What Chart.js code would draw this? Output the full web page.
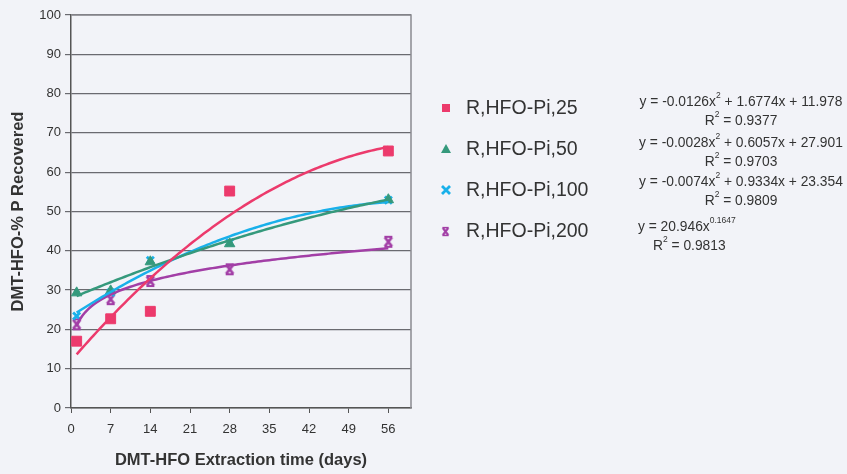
<!DOCTYPE html>
<html>
<head>
<meta charset="utf-8">
<script src="https://cdn.jsdelivr.net/npm/chart.js@4/dist/chart.umd.min.js"></script>
<style>
  html, body { margin: 0; padding: 0; background: #f2f3f8; }
  #wrap { position: relative; width: 847px; height: 474px; }
</style>
</head>
<body>
<div id="wrap"><canvas id="chartCanvas" width="847" height="474"></canvas></div>
<script>
// --- data ---
const seriesNames = ["R,HFO-Pi,25", "R,HFO-Pi,50", "R,HFO-Pi,100", "R,HFO-Pi,200"];
const seriesColors = ["#ec3a6c", "#35997c", "#19b0ea", "#a23ea6"];
const days = [1, 7, 14, 28, 56];
const pi25 = [17, 22.7, 24.6, 55.2, 65.4];
const pi50 = [29.3, 29.8, 37.2, 41.8, 53];
const pi100 = [23.4, 29.4, 37.6, 42.1, 52.9];
const pi200 = [21.3, 27.7, 32.3, 35.3, 42.3];
const xTicks = [0, 7, 14, 21, 28, 35, 42, 49, 56];

// trend line coefficients as printed next to the legend
const quad25 = [-0.0126, 1.6774, 11.978];
const quad50 = [-0.0028, 0.6057, 27.901];
const quad100 = [-0.0074, 0.9334, 23.354];
const pow200 = [20.946, 0.1647];
const rSquared = ["0.9377", "0.9703", "0.9809", "0.9813"];

const trendX = [];
for (let x = 1; x <= 56; x += 0.5) trendX.push(x);
const quadLine = c => trendX.map(x => ({ x, y: c[0] * x * x + c[1] * x + c[2] }));
const powLine = c => trendX.map(x => ({ x, y: c[0] * Math.pow(x, c[1]) }));

const toPoints = vals => days.map((d, i) => ({ x: d, y: vals[i] }));

// "x with bars" marker for the 200 series
function barCross(color) {
  const c = document.createElement("canvas");
  c.width = 14; c.height = 14;
  const g = c.getContext("2d");
  g.strokeStyle = color; g.lineWidth = 2.8;
  g.beginPath();
  g.moveTo(3.5, 2.5); g.lineTo(10.5, 11.5);
  g.moveTo(10.5, 2.5); g.lineTo(3.5, 11.5);
  g.stroke();
  g.lineWidth = 2.2;
  g.beginPath();
  g.moveTo(3, 2); g.lineTo(11, 2);
  g.moveTo(3, 12); g.lineTo(11, 12);
  g.stroke();
  return c;
}
const purpleMark = barCross(seriesColors[3]);

const pointStyles = ["rect", "triangle", "crossRot", purpleMark];
const pointRadii = [7, 6, 5, 7];

const trendSets = [quadLine(quad25), quadLine(quad50), quadLine(quad100), powLine(pow200)];
const pointSets = [pi25, pi50, pi100, pi200];

const datasets = [];
trendSets.forEach((pts, i) => {
  datasets.push({
    type: "line",
    data: pts,
    borderColor: seriesColors[i],
    borderWidth: 2.5,
    pointRadius: 0,
    fill: false,
    tension: 0
  });
});
pointSets.forEach((vals, i) => {
  datasets.push({
    type: "scatter",
    label: seriesNames[i],
    data: toPoints(vals),
    pointStyle: pointStyles[i],
    pointRadius: pointRadii[i],
    backgroundColor: seriesColors[i],
    borderColor: seriesColors[i],
    borderWidth: i === 2 ? 2.8 : 1,
    showLine: false
  });
});

// frame round the plot area
const frame = {
  id: "frame",
  beforeDatasetsDraw(chart) {
    const { ctx, chartArea: a } = chart;
    ctx.save();
    ctx.strokeStyle = "#8a8a90";
    ctx.lineWidth = 1.5;
    ctx.beginPath();
    ctx.moveTo(a.left, a.top);
    ctx.lineTo(a.right, a.top);
    ctx.lineTo(a.right, a.bottom);
    ctx.stroke();
    ctx.restore();
  }
};

const eqFont = "13.8px 'Liberation Sans', Arial, sans-serif";
const supFont = "8.5px 'Liberation Sans', Arial, sans-serif";

// text with superscripts
function drawEq(ctx, parts, x, y, align) {
  let w = 0;
  parts.forEach(p => {
    ctx.font = p.sup ? supFont : eqFont;
    w += ctx.measureText(p.t).width;
  });
  let cx = align === "center" ? x - w / 2 : x;
  parts.forEach(p => {
    ctx.font = p.sup ? supFont : eqFont;
    ctx.fillText(p.t, cx, p.sup ? y - 6 : y);
    cx += ctx.measureText(p.t).width;
  });
}

const sideLegend = {
  id: "sideLegend",
  afterDraw(chart) {
    const ctx = chart.ctx;
    ctx.save();
    const rows = [108, 149, 190, 231];
    rows.forEach((y, i) => {
      ctx.fillStyle = seriesColors[i];
      ctx.strokeStyle = seriesColors[i];
      if (i === 0) ctx.fillRect(442, y - 4, 8, 8);
      if (i === 1) {
        ctx.beginPath();
        ctx.moveTo(446, y - 5); ctx.lineTo(451, y + 4); ctx.lineTo(441, y + 4);
        ctx.closePath(); ctx.fill();
      }
      if (i === 2) {
        ctx.lineWidth = 2.8;
        ctx.beginPath();
        ctx.moveTo(442, y - 4); ctx.lineTo(450, y + 4);
        ctx.moveTo(450, y - 4); ctx.lineTo(442, y + 4);
        ctx.stroke();
      }
      if (i === 3) ctx.drawImage(purpleMark, 440, y - 5, 11, 11);
      ctx.fillStyle = "#333";
      ctx.font = "19.5px 'Liberation Sans', Arial, sans-serif";
      ctx.textBaseline = "middle";
      ctx.textAlign = "left";
      ctx.fillText(seriesNames[i], 466, y + 1);
    });

    ctx.fillStyle = "#333";
    ctx.textAlign = "left";
    ctx.textBaseline = "middle";
    const fmt = v => (v < 0 ? "-" : "") + Math.abs(v).toFixed(4);
    const quads = [quad25, quad50, quad100];
    const eqY = [102, 143, 182];
    quads.forEach((c, i) => {
      drawEq(ctx, [
        { t: "y = " + fmt(c[0]) + "x" },
        { t: "2", sup: true },
        { t: " + " + c[1].toFixed(4) + "x + " + c[2].toFixed(3) }
      ], 741, eqY[i], "center");
      drawEq(ctx, [{ t: "R" }, { t: "2", sup: true }, { t: " = " + rSquared[i] }], 741, eqY[i] + 19, "center");
    });
    drawEq(ctx, [{ t: "y = " + pow200[0].toFixed(3) + "x" }, { t: pow200[1].toFixed(4), sup: true }], 638, 227, "left");
    drawEq(ctx, [{ t: "R" }, { t: "2", sup: true }, { t: " = " + rSquared[3] }], 653, 246, "left");
    ctx.restore();
  }
};

const tickFont = { family: "'Liberation Sans', Arial, sans-serif", size: 13 };
const titleFont = { family: "'Liberation Sans', Arial, sans-serif", size: 16.5, weight: "bold" };

new Chart(document.getElementById("chartCanvas"), {
  type: "scatter",
  data: { datasets },
  options: {
    responsive: false,
    animation: false,
    layout: { padding: { left: 0, right: 436, top: 15, bottom: 0 } },
    plugins: { legend: { display: false }, tooltip: { enabled: false } },
    scales: {
      x: {
        type: "linear",
        min: 0,
        max: 60,
        afterBuildTicks: s => { s.ticks = xTicks.map(v => ({ value: v })); },
        afterFit: s => { s.height = 66; },
        grid: { drawOnChartArea: false, drawTicks: true, tickLength: 5, color: "#555" },
        border: { color: "#555", width: 1.5 },
        ticks: { font: tickFont, color: "#333", padding: 9, maxRotation: 0 },
        title: {
          display: true,
          text: "DMT-HFO Extraction time (days)",
          color: "#333",
          font: titleFont,
          padding: { top: 0, bottom: 4 }
        }
      },
      y: {
        min: 0,
        max: 100,
        afterFit: s => { s.width = 71; },
        grid: { color: "#6a6a70", lineWidth: 1.2, tickLength: 6, drawTicks: true },
        border: { color: "#555", width: 1.5 },
        ticks: { stepSize: 10, font: tickFont, color: "#333", padding: 4 },
        title: {
          display: true,
          text: "DMT-HFO-% P Recovered",
          color: "#333",
          font: titleFont,
          padding: { top: 9, bottom: 0 }
        }
      }
    }
  },
  plugins: [frame, sideLegend]
});
</script>
</body>
</html>
